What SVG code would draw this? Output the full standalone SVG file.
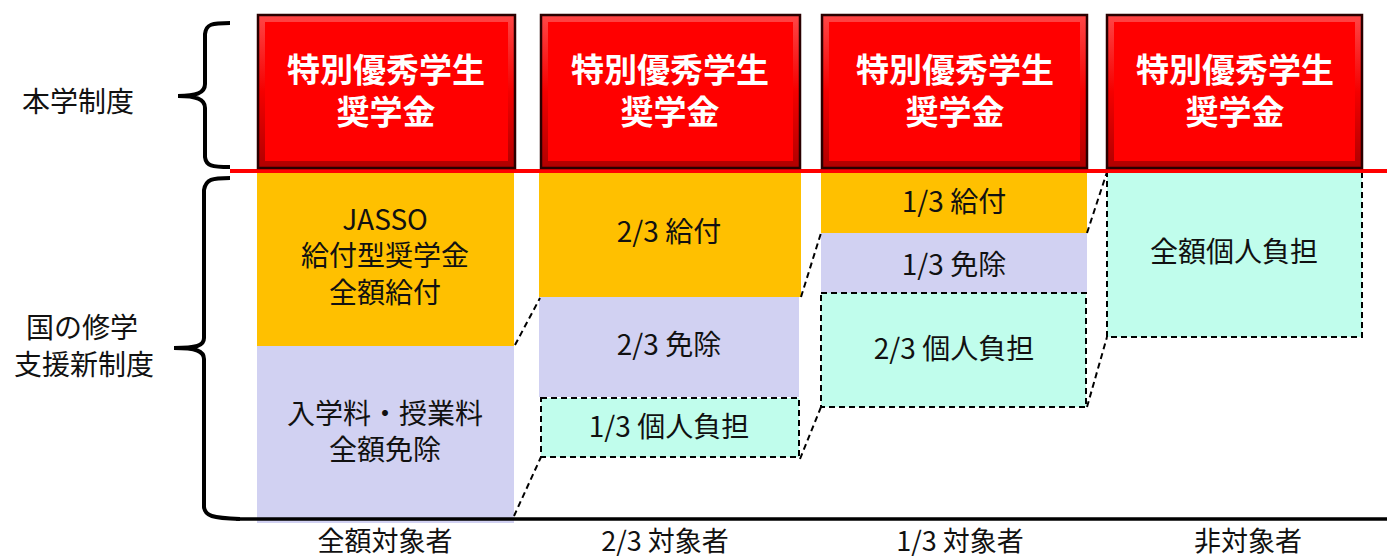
<svg xmlns="http://www.w3.org/2000/svg" width="1387" height="560" viewBox="0 0 1387 560">
<defs>
<linearGradient id="bevel" x1="0" y1="0" x2="0" y2="1">
<stop offset="0" stop-color="#ff4646"/>
<stop offset="0.5" stop-color="#f40000"/>
<stop offset="1" stop-color="#b00000"/>
</linearGradient>
<style>
text{font-family:"Noto Sans CJK JP","Noto Sans",sans-serif;dominant-baseline:central;text-anchor:middle}
.lbl{font-size:28px;fill:#111}
.bot{font-size:27px;fill:#111}
.ttl{font-size:33px;font-weight:bold;fill:#fff}
.outer{fill:url(#bevel);stroke:#2a0000;stroke-width:2.5}
.inner{fill:#ff0000}
.or{fill:#ffc000}
.lv{fill:#d1d1f2}
.cy{fill:#c0fdec}
.dash{fill:none;stroke:#000;stroke-width:2;stroke-dasharray:6 4}
.brace{fill:none;stroke:#000;stroke-width:4}
</style>
</defs>
<rect width="1387" height="560" fill="#fff"/>

<g id="side-labels">
<text class="lbl" x="78" y="100">本学制度</text>
<text class="lbl" x="82" y="326">国の修学</text>
<text class="lbl" x="84" y="363">支援新制度</text>
<path class="brace" d="M230,23 C212,23 206,24 205,34 L205,84 C205,93 196,96 178,96 C196,96 205,99 205,108 L205,157 C206,166 212,167 230,167"/>
<path class="brace" d="M230,178 C212,178 206,179 204,190 L204,338 C204,346 196,348 174,348 C196,348 204,351 204,359 L204,507 C205,516 212,518 240,519"/>
</g>

<g id="col1">
<rect class="or" x="257" y="171" width="257" height="175"/>
<rect class="lv" x="257" y="346" width="257" height="177"/>
<text class="lbl" x="385" y="218">JASSO</text>
<text class="lbl" x="385" y="254">給付型奨学金</text>
<text class="lbl" x="385" y="291">全額給付</text>
<text class="lbl" x="385" y="412">入学料・授業料</text>
<text class="lbl" x="385" y="448">全額免除</text>
</g>

<g id="col2">
<rect class="or" x="539" y="171" width="262" height="126"/>
<rect class="lv" x="539" y="297" width="260" height="100"/>
<rect class="cy" x="541" y="398" width="258" height="59"/>
<rect class="dash" x="541" y="398" width="258" height="59"/>
<text class="lbl" x="669" y="230">2/3 給付</text>
<text class="lbl" x="669" y="343">2/3 免除</text>
<text class="lbl" x="669" y="425">1/3 個人負担</text>
</g>

<g id="col3">
<rect class="or" x="821" y="171" width="266" height="62"/>
<rect class="lv" x="821" y="233" width="266" height="60"/>
<rect class="cy" x="821" y="293" width="265" height="114"/>
<rect class="dash" x="821" y="293" width="265" height="114"/>
<text class="lbl" x="954" y="200">1/3 給付</text>
<text class="lbl" x="954" y="263">1/3 免除</text>
<text class="lbl" x="954" y="347">2/3 個人負担</text>
</g>

<g id="col4">
<rect class="cy" x="1107" y="171" width="255" height="166"/>
<path class="dash" d="M1107,171 L1107,337 L1362,337 L1362,171"/>
<text class="lbl" x="1234" y="250">全額個人負担</text>
</g>

<g id="connectors">
<line class="dash" x1="515" y1="345" x2="540" y2="298"/>
<line class="dash" x1="514" y1="516" x2="541" y2="457"/>
<line class="dash" x1="801" y1="297" x2="821" y2="233"/>
<line class="dash" x1="800" y1="459" x2="821" y2="407"/>
<line class="dash" x1="1087" y1="233" x2="1107" y2="172"/>
<line class="dash" x1="1087" y1="407" x2="1107" y2="337"/>
</g>

<g id="axis">
<line x1="230" y1="171" x2="1387" y2="171" stroke="#ff0000" stroke-width="4"/>
<line x1="236" y1="519" x2="1387" y2="519" stroke="#000" stroke-width="3.5"/>
</g>

<g id="box1">
<rect class="outer" x="258" y="15" width="257" height="153"/>
<rect class="inner" x="265" y="22" width="243" height="139"/>
<text class="ttl" x="386" y="68">特別優秀学生</text>
<text class="ttl" x="386" y="110">奨学金</text>
</g>
<g id="box2">
<rect class="outer" x="541" y="15" width="259" height="153"/>
<rect class="inner" x="548" y="22" width="245" height="139"/>
<text class="ttl" x="670" y="68">特別優秀学生</text>
<text class="ttl" x="670" y="110">奨学金</text>
</g>
<g id="box3">
<rect class="outer" x="822" y="15" width="265" height="153"/>
<rect class="inner" x="829" y="22" width="251" height="139"/>
<text class="ttl" x="955" y="68">特別優秀学生</text>
<text class="ttl" x="955" y="110">奨学金</text>
</g>
<g id="box4">
<rect class="outer" x="1107" y="15" width="255" height="153"/>
<rect class="inner" x="1114" y="22" width="241" height="139"/>
<text class="ttl" x="1235" y="68">特別優秀学生</text>
<text class="ttl" x="1235" y="110">奨学金</text>
</g>

<g id="bottom-labels">
<text class="bot" x="385" y="539">全額対象者</text>
<text class="bot" x="665" y="539">2/3 対象者</text>
<text class="bot" x="960" y="539">1/3 対象者</text>
<text class="bot" x="1248" y="539">非対象者</text>
</g>
</svg>
